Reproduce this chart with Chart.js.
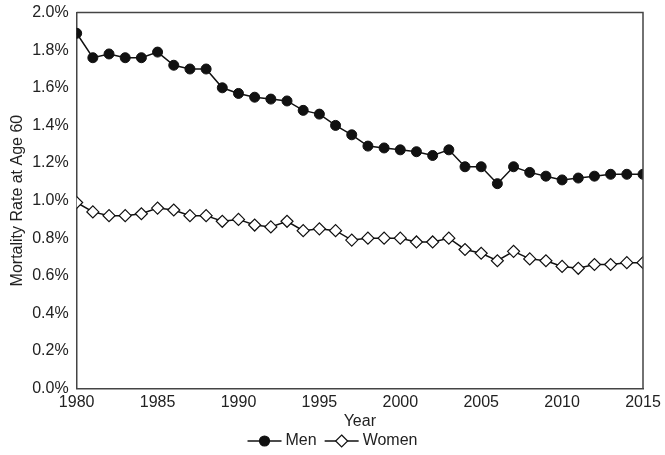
<!DOCTYPE html>
<html><head><meta charset="utf-8">
<script src="https://cdn.jsdelivr.net/npm/chart.js@4"></script>
<style>body{margin:0;background:#fff}#wrap{width:665px;height:455px}</style>
</head><body><div id="wrap"><canvas id="c"></canvas></div>
<script>
// Mortality rate at age 60, in percent
const years = [];
for (let y = 1980; y <= 2015; y++) years.push(y);
const men = [1.89,1.76,1.78,1.76,1.76,1.79,1.72,1.70,1.70,1.60,1.57,1.55,1.54,1.53,1.48,1.46,1.40,1.35,1.29,1.28,1.27,1.26,1.24,1.27,1.18,1.18,1.09,1.18,1.15,1.13,1.11,1.12,1.13,1.14,1.14,1.14];
const women = [0.99,0.94,0.92,0.92,0.93,0.96,0.95,0.92,0.92,0.89,0.90,0.87,0.86,0.89,0.84,0.85,0.84,0.79,0.80,0.80,0.80,0.78,0.78,0.80,0.74,0.72,0.68,0.73,0.69,0.68,0.65,0.64,0.66,0.66,0.67,0.67];

const FONT = '"Liberation Sans", Arial, sans-serif';
Chart.defaults.font.family = FONT;
Chart.defaults.font.size = 16;
Chart.defaults.color = '#222';

// legend drawn Excel-style: line through the marker
const lineLegend = {
  id: 'lineLegend',
  afterDraw(c) {
    const g = c.ctx, y = 441;
    g.save();
    g.font = '16px ' + FONT; g.textBaseline = 'middle'; g.fillStyle = '#222';
    const items = c.data.datasets;
    const widths = items.map(d => 34 + 4 + g.measureText(d.label).width);
    const gap = 8;
    let x = (c.width - widths.reduce((a, b) => a + b, 0) - gap) / 2;
    items.forEach((d, i) => {
      g.strokeStyle = '#111'; g.lineWidth = 1.5;
      g.beginPath(); g.moveTo(x, y); g.lineTo(x + 34, y); g.stroke();
      g.fillStyle = d.backgroundColor; g.lineWidth = 1.2;
      g.beginPath();
      if (d.pointStyle === 'circle') g.arc(x + 17, y, 5, 0, Math.PI * 2);
      else { g.moveTo(x + 17, y - 6); g.lineTo(x + 23, y); g.lineTo(x + 17, y + 6); g.lineTo(x + 11, y); g.closePath(); }
      g.fill(); g.stroke();
      g.fillStyle = '#222';
      g.fillText(d.label, x + 38, y);
      x += widths[i] + gap;
    });
    g.restore();
  }
};

new Chart(document.getElementById('c'), {
  type: 'line',
  data: {
    datasets: [
      { label: 'Men', data: years.map((y, i) => ({x: y, y: men[i]})),
        borderColor: '#111', backgroundColor: '#111', borderWidth: 1.5,
        pointStyle: 'circle', pointRadius: 5, pointBorderWidth: 1 },
      { label: 'Women', data: years.map((y, i) => ({x: y, y: women[i]})),
        borderColor: '#111', backgroundColor: '#fff', borderWidth: 1.5,
        pointStyle: 'rectRot', pointRadius: 6, pointBorderWidth: 1.2 }
    ]
  },
  options: {
    animation: false, responsive: true, maintainAspectRatio: false,
    layout: { padding: { left: 6, right: 22, top: 12, bottom: 24 } },
    plugins: { legend: { display: false }, tooltip: { enabled: false } },
    scales: {
      x: { type: 'linear', min: 1980, max: 2015,
        ticks: { stepSize: 5, color: '#222', padding: 0, callback: v => String(v) },
        grid: { display: false, drawTicks: true, tickLength: 4 },
        border: { color: '#444', width: 1.5 },
        title: { display: true, text: 'Year', color: '#222', padding: 0 } },
      y: { min: 0, max: 2.0,
        ticks: { stepSize: 0.2, color: '#222', callback: v => v.toFixed(1) + '%' },
        grid: { display: false, tickLength: 5 },
        border: { color: '#444', width: 1.5 },
        title: { display: true, text: 'Mortality Rate at Age 60', color: '#222', padding: 2 } }
    }
  },
  plugins: [lineLegend, {
    id: 'frame',
    afterDraw(c) {
      const a = c.chartArea, g = c.ctx;
      g.save(); g.strokeStyle = '#444'; g.lineWidth = 1.5;
      g.beginPath(); g.moveTo(a.left, a.top); g.lineTo(a.right, a.top); g.lineTo(a.right, a.bottom); g.stroke();
      g.restore();
    }
  }]
});
</script></body></html>
